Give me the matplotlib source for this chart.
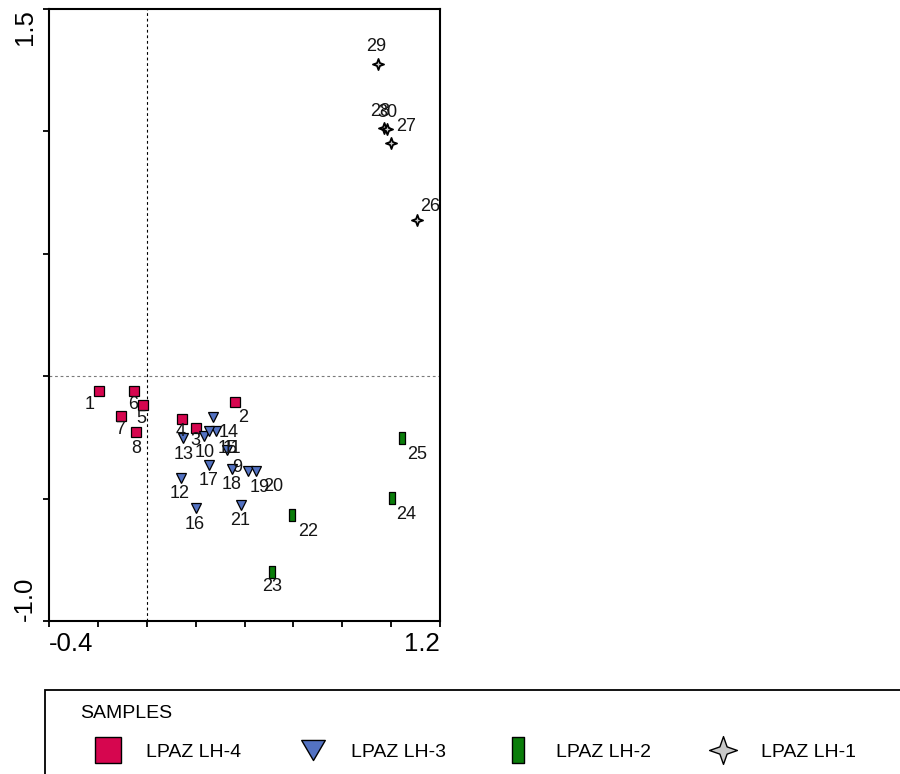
import matplotlib
matplotlib.use('Agg')
import matplotlib.pyplot as plt
from matplotlib.path import Path
from matplotlib.lines import Line2D
from matplotlib.patches import Rectangle

plt.rcParams['font.family'] = ['Liberation Sans', 'DejaVu Sans']

# ---------------- data ----------------
series_names = ['LPAZ LH-4', 'LPAZ LH-3', 'LPAZ LH-2', 'LPAZ LH-1']

lh4_ids = ['1', '2', '3', '4', '5', '6', '7', '8']
lh4_x = [-0.194, 0.362, 0.202, 0.146, -0.016, -0.052, -0.104, -0.043]
lh4_y = [-0.060, -0.106, -0.210, -0.173, -0.116, -0.060, -0.162, -0.228]

lh3_ids = ['9', '10', '11', '12', '13', '14', '15', '16', '17', '18', '19', '20', '21']
lh3_x = [0.328, 0.235, 0.284, 0.140, 0.150, 0.273, 0.255, 0.201, 0.253, 0.347, 0.415, 0.446, 0.385]
lh3_y = [-0.302, -0.245, -0.225, -0.414, -0.253, -0.167, -0.225, -0.540, -0.364, -0.379, -0.388, -0.386, -0.527]

lh2_ids = ['22', '23', '24', '25']
lh2_x = [0.596, 0.512, 1.003, 1.046]
lh2_y = [-0.568, -0.799, -0.497, -0.254]

lh1_ids = ['26', '27', '28', '29', '30']
lh1_x = [1.105, 0.999, 0.969, 0.948, 0.982]
lh1_y = [0.637, 0.951, 1.012, 1.277, 1.008]

x_ticks = [-0.4, -0.2, 0.0, 0.2, 0.4, 0.6, 0.8, 1.0, 1.2]
x_ticklabels = ['-0.4', '', '', '', '', '', '', '', '1.2']
y_ticks = [-1.0, -0.5, 0.0, 0.5, 1.0, 1.5]
y_ticklabels = ['-1.0', '', '', '', '', '1.5']
legend_title = 'SAMPLES'

# ---------------- styles ----------------
# label offsets in pixels (dx right, dy down)
label_offsets_px = {
    '1': (-10, 14), '2': (8, 15), '3': (-1, 13), '4': (-2, 13), '5': (-2, 14),
    '6': (-1, 14), '7': (-1, 14), '8': (0, 16),
    '9': (10, 17), '10': (1, 16), '11': (16, 17), '12': (-1, 16), '13': (0, 16),
    '14': (15, 15), '15': (19, 17), '16': (-1, 16), '17': (0, 15), '18': (0, 16),
    '19': (12, 16), '20': (17, 16), '21': (-1, 15),
    '22': (16, 16), '23': (0, 15), '24': (14, 17), '25': (15, 16),
    '26': (13, -14), '27': (15, -17), '28': (-3, -17), '29': (-2, -17), '30': (1, -17),
}

star_path = Path(
    [(0, 1), (0.26, 0.26), (1, 0), (0.26, -0.26), (0, -1), (-0.26, -0.26), (-1, 0), (-0.26, 0.26), (0, 1)],
    [Path.MOVETO] + [Path.LINETO] * 7 + [Path.CLOSEPOLY])
rect_path = Path(
    [(-0.5, -1), (0.5, -1), (0.5, 1), (-0.5, 1), (-0.5, -1)],
    [Path.MOVETO] + [Path.LINETO] * 3 + [Path.CLOSEPOLY])
tri_leg_path = Path(
    [(-1, 0.85), (1, 0.85), (0, -0.85), (-1, 0.85)],
    [Path.MOVETO] + [Path.LINETO] * 2 + [Path.CLOSEPOLY])

c_red = '#d6064f'
c_blue = '#5372c2'
c_green = '#0a7d0a'
c_gray = '#c8c8c8'

W, H = 900, 774
fig = plt.figure(figsize=(W / 100, H / 100), dpi=100)
ax = fig.add_axes([49 / W, 1 - 621 / H, (440 - 49) / W, (621 - 9) / H])

ax.axvline(0.0, color='black', lw=0.8, ls=(0, (2.5, 2.5)), zorder=1)
ax.axhline(0.0, color='#7a7a7a', lw=0.8, ls=(0, (2.5, 2.5)), zorder=1)

ax.plot(lh4_x, lh4_y, ls='none', marker='s', ms=6.5, mfc=c_red, mec='black', mew=0.9, zorder=3)
ax.plot(lh3_x, lh3_y, ls='none', marker='v', ms=6.8, mfc=c_blue, mec='black', mew=0.9, zorder=3)
ax.plot(lh2_x, lh2_y, ls='none', marker=rect_path, ms=9.3, mfc=c_green, mec='black', mew=0.9, zorder=3)
ax.plot(lh1_x, lh1_y, ls='none', marker=star_path, ms=8, mfc=c_gray, mec='black', mew=1.3, zorder=3)

for ids, xs, ys in [(lh4_ids, lh4_x, lh4_y), (lh3_ids, lh3_x, lh3_y),
                    (lh2_ids, lh2_x, lh2_y), (lh1_ids, lh1_x, lh1_y)]:
    for s, xv, yv in zip(ids, xs, ys):
        dx, dy = label_offsets_px[s]
        ax.annotate(s, (xv, yv), xytext=(dx * 0.72, -dy * 0.72), textcoords='offset points',
                    ha='center', va='center', fontsize=13, color='#151515', zorder=4)

ax.set_xlim(-0.4, 1.2)
ax.set_ylim(-1.0, 1.5)
ax.set_xticks(x_ticks)
ax.set_xticklabels(x_ticklabels, fontsize=18.5)
ax.set_yticks(y_ticks)
ax.set_yticklabels(y_ticklabels, fontsize=18.5, rotation=90)
ax.tick_params(axis='both', direction='out', length=4, width=1.3, color='black')
ax.tick_params(axis='x', pad=4)
ax.tick_params(axis='y', pad=5)
xl = ax.get_xticklabels()
xl[0].set_ha('left')
xl[-1].set_ha('right')
yl = ax.get_yticklabels()
for t in yl:
    t.set_ha('right')
yl[0].set_va('bottom')
yl[-1].set_va('top')
for sp in ax.spines.values():
    sp.set_linewidth(1.5)
    sp.set_color('black')

# legend frame (extends beyond figure edges)
fig.patches.append(Rectangle((45 / W, -0.05), 1.0, (774 - 690) / H + 0.05,
                             transform=fig.transFigure, fill=False, ec='black', lw=1.3))
fig.text(80 / W, 1 - 713 / H, legend_title, fontsize=14, ha='left', va='center')

handles = [
    Line2D([], [], ls='none', marker='s', ms=18.5, mfc=c_red, mec='black', mew=1.0),
    Line2D([], [], ls='none', marker=tri_leg_path, ms=17, mfc=c_blue, mec='black', mew=1.0),
    Line2D([], [], ls='none', marker=rect_path, ms=18.5, mfc=c_green, mec='black', mew=1.0),
    Line2D([], [], ls='none', marker=star_path, ms=20, mfc=c_gray, mec='black', mew=1.0),
]
fs = 14
em = fs / 72 * 100
fig.legend(handles, series_names, loc='center left',
           bbox_to_anchor=((108 - em) / W, 1 - 752 / H), ncol=4, frameon=False,
           fontsize=fs, handlelength=2.0, handletextpad=(146 - 108 - em) / em,
           columnspacing=2.7, borderpad=0, borderaxespad=0)

fig.savefig('out.png', dpi=100)
